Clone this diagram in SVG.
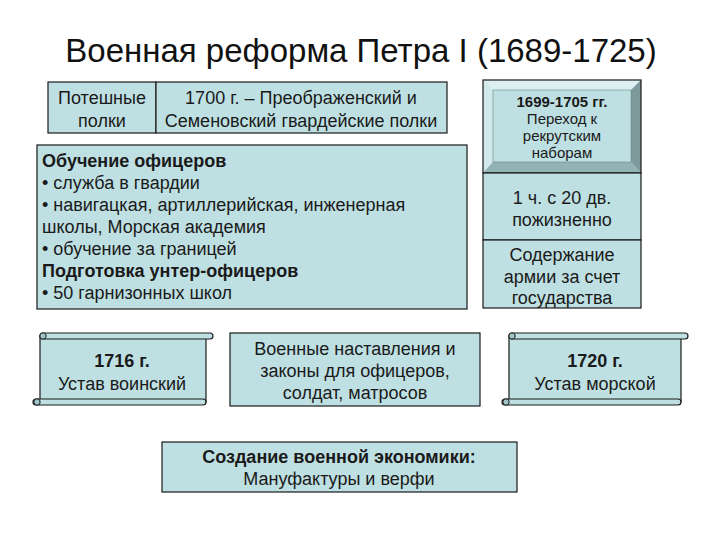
<svg xmlns="http://www.w3.org/2000/svg" width="720" height="540" viewBox="0 0 720 540">
<style>
.box{fill:#bfe0e3;stroke:#1a1a1a;stroke-width:1.2}
.t{font-family:"Liberation Sans",Arial,sans-serif;font-size:18px;fill:#1a1a1a}
.s{font-size:15px}
.c{text-anchor:middle}
.b{font-weight:bold}
.title{font-family:"Liberation Sans",Arial,sans-serif;font-size:33px;fill:#111;text-anchor:middle}
.curl{fill:#9fc4c8;stroke:#1a1a1a;stroke-width:1}
</style>
<rect width="720" height="540" fill="#ffffff"/>
<text class="title" x="361" y="62">Военная реформа Петра I (1689-1725)</text>

<g id="poteshnye">
<rect class="box" x="48" y="82" width="108" height="51"/>
<text class="t c" x="102" y="104">Потешные</text>
<text class="t c" x="102" y="127">полки</text>
</g>
<g id="guards">
<rect class="box" x="156" y="82" width="291" height="51"/>
<text class="t c" x="301" y="104">1700 г. – Преображенский и</text>
<text class="t c" x="301" y="127">Семеновский гвардейские полки</text>
</g>

<g id="officers">
<rect class="box" x="37" y="145" width="430" height="164"/>
<text class="t b" x="42" y="167">Обучение офицеров</text>
<text class="t" x="42" y="189">• служба в гвардии</text>
<text class="t" x="42" y="211">• навигацкая, артиллерийская, инженерная</text>
<text class="t" x="42" y="233">школы, Морская академия</text>
<text class="t" x="42" y="255">• обучение за границей</text>
<text class="t b" x="42" y="277">Подготовка унтер-офицеров</text>
<text class="t" x="42" y="299">• 50 гарнизонных школ</text>
</g>

<g id="recruit">
<rect x="483" y="80" width="158" height="93" fill="#bfe0e3"/>
<polygon points="483,80 641,80 631,90 493,90" fill="#dcefF1"/>
<polygon points="483,80 493,90 493,162 483,173" fill="#d2e9ec"/>
<polygon points="641,80 641,173 631,162 631,90" fill="#7f9a9c"/>
<polygon points="483,173 641,173 631,162 493,162" fill="#93b2b5"/>
<rect x="483" y="80" width="158" height="93" fill="none" stroke="#1a1a1a" stroke-width="1.2"/>
<rect x="493" y="90" width="138" height="72" fill="none" stroke="#6a8284" stroke-width="0.6"/>
<text class="t s c b" x="562" y="107">1699-1705 гг.</text>
<text class="t s c" x="562" y="124">Переход к</text>
<text class="t s c" x="562" y="141">рекрутским</text>
<text class="t s c" x="562" y="158">наборам</text>
</g>
<g id="quota">
<rect class="box" x="483" y="173" width="158" height="67"/>
<text class="t c" x="562" y="204">1 ч. с 20 дв.</text>
<text class="t c" x="562" y="226">пожизненно</text>
</g>
<g id="upkeep">
<rect class="box" x="483" y="240" width="158" height="68"/>
<text class="t c" x="562" y="261">Содержание</text>
<text class="t c" x="562" y="283">армии за счет</text>
<text class="t c" x="562" y="304">государства</text>
</g>

<g id="ustav1716">
<rect class="box" x="40" y="336" width="166" height="66"/>
<rect class="box" x="40" y="333" width="173" height="6" rx="3"/>
<circle class="curl" cx="43" cy="336" r="3.2"/>
<rect class="box" x="33" y="399" width="173" height="6" rx="3"/>
<circle class="curl" cx="37" cy="402" r="3.2"/>
<text class="t c b" x="122" y="367">1716 г.</text>
<text class="t c" x="122" y="390">Устав воинский</text>
</g>

<g id="laws">
<rect class="box" x="230" y="333" width="250" height="73"/>
<text class="t c" x="355" y="355">Военные наставления и</text>
<text class="t c" x="355" y="377">законы для офицеров,</text>
<text class="t c" x="355" y="399">солдат, матросов</text>
</g>

<g id="ustav1720">
<rect class="box" x="509" y="336" width="172" height="66"/>
<rect class="box" x="509" y="333" width="179" height="6" rx="3"/>
<circle class="curl" cx="512" cy="336" r="3.2"/>
<rect class="box" x="502" y="399" width="179" height="6" rx="3"/>
<circle class="curl" cx="506" cy="402" r="3.2"/>
<text class="t c b" x="595" y="367">1720 г.</text>
<text class="t c" x="595" y="390">Устав морской</text>
</g>

<g id="economy">
<rect class="box" x="162" y="442" width="355" height="50"/>
<text class="t c b" x="339" y="463">Создание военной экономики:</text>
<text class="t c" x="339" y="485">Мануфактуры и верфи</text>
</g>

<g id="connectors"/>
</svg>
